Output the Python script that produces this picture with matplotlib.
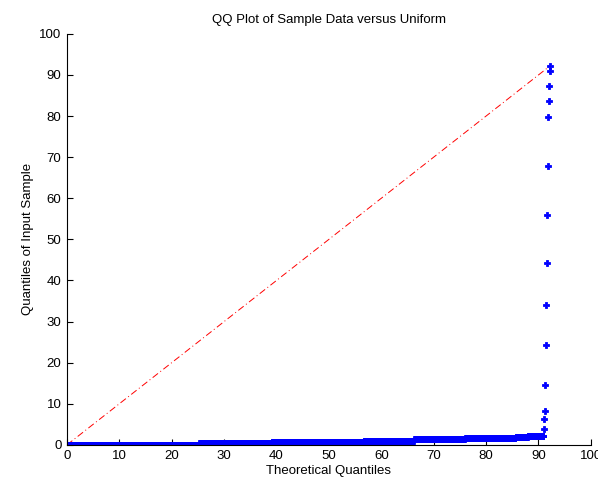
import numpy as np
import matplotlib
matplotlib.use("Agg")
import matplotlib.pyplot as plt

# sorted sample, stored as levels + how many values sit on each level
band_levels = [0.0, 0.35, 0.6, 0.9, 1.35, 1.6, 1.9, 2.2]
band_counts = [273, 150, 190, 105, 105, 105, 25, 33]
# largest values of the sample (upper tail)
tail_values = [3.8, 6.2, 8.2, 14.5, 24.3, 34.0, 44.3, 56.0, 67.8, 79.8, 83.7, 87.4, 90.9, 92.3]

title = "QQ Plot of Sample Data versus Uniform"
x_label = "Theoretical Quantiles"
y_label = "Quantiles of Input Sample"


def make_plot():
    plt.rcParams['font.family'] = ['Liberation Sans', 'DejaVu Sans']

    sample = np.concatenate([np.repeat(band_levels, band_counts), tail_values])
    sample = np.sort(sample)
    n = len(sample)

    # uniform quantiles between sample min and max
    lo, hi = sample.min(), sample.max()
    theo = lo + (hi - lo) * (np.arange(1, n + 1) - 0.5) / n

    fig = plt.figure(figsize=(5.98, 4.91), dpi=100)
    ax = fig.add_axes([0.112, 0.094, 0.876, 0.837])

    # reference line
    ax.plot([lo, hi], [lo, hi], color='red', linewidth=0.7,
            linestyle=(0, (7, 3, 1, 3)))
    ax.plot(theo, sample, linestyle='none', marker='P', color='blue',
            markersize=5, markeredgewidth=0.6)

    ax.set_xlim(0, 100)
    ax.set_ylim(0, 100)
    ax.set_xticks(np.arange(0, 101, 10))
    ax.set_yticks(np.arange(0, 101, 10))
    ax.tick_params(direction='in', length=4, width=0.8, labelsize=9.5,
                   colors='black', pad=4)
    for side in ['top', 'right']:
        ax.spines[side].set_visible(False)
    for side in ['left', 'bottom']:
        ax.spines[side].set_linewidth(0.8)

    ax.set_title(title, fontsize=9.5, pad=8)
    ax.set_xlabel(x_label, fontsize=9.5, labelpad=2)
    ax.set_ylabel(y_label, fontsize=9.5, labelpad=4)

    fig.savefig("out.png", dpi=100)


if __name__ == "__main__":
    make_plot()
